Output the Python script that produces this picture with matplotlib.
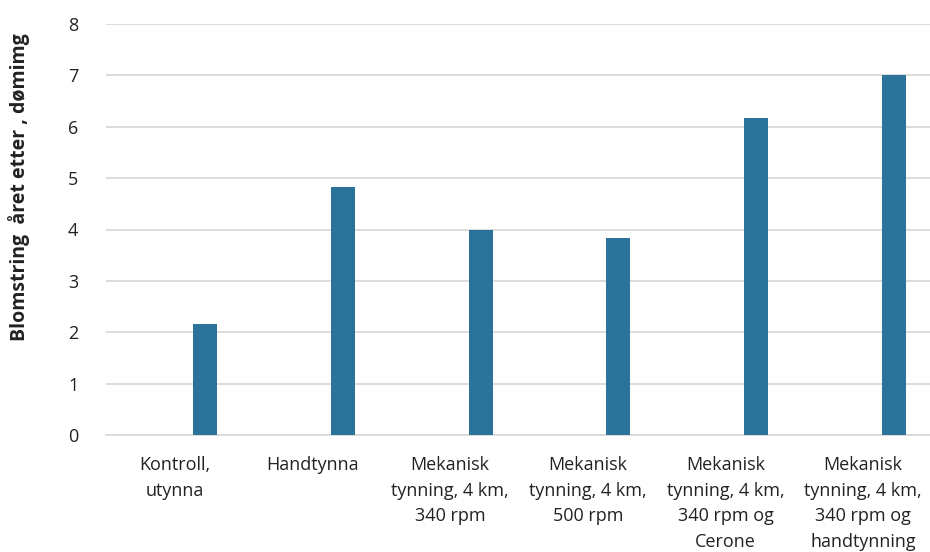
import matplotlib
matplotlib.use("Agg")
import matplotlib.pyplot as plt
import numpy as np

categories = [
    "Kontroll,\nutynna",
    "Handtynna",
    "Mekanisk\ntynning, 4 km,\n340 rpm",
    "Mekanisk\ntynning, 4 km,\n500 rpm",
    "Mekanisk\ntynning, 4 km,\n340 rpm og\nCerone",
    "Mekanisk\ntynning, 4 km,\n340 rpm og\nhandtynning",
]
values = [2.17, 4.83, 4.0, 3.83, 6.17, 7.0]
y_ticks = [0, 1, 2, 3, 4, 5, 6, 7, 8]
y_label = "Blomstring  året etter , dømimg"

plt.rcParams["font.family"] = ["Open Sans", "DejaVu Sans"]

fig = plt.figure(figsize=(9.3, 5.52), dpi=100)
ax = fig.add_axes([106 / 930, 117 / 552, 826 / 930, 411 / 552])

x = np.arange(len(categories))
ax.bar(x + 0.221, values, width=0.174, color="#2b7399", zorder=3)

ax.set_xlim(-0.5, len(categories) - 0.5)
ax.set_ylim(0, 8)
ax.set_yticks(y_ticks)
ax.set_yticklabels([str(t) for t in y_ticks], fontsize=13, color="#222222")
ax.set_xticks(x)
ax.set_xticklabels(categories, fontsize=13, color="#222222", linespacing=1.55, va="top")

ax.tick_params(axis="y", length=0, pad=20)
ax.tick_params(axis="x", length=0, pad=15)
ax.grid(axis="y", color="#d9d9d9", linewidth=1.3, zorder=0)
for s in ["top", "right", "left"]:
    ax.spines[s].set_visible(False)
ax.spines["bottom"].set_color("#d9d9d9")
ax.spines["bottom"].set_linewidth(1.3)

fig.text(19 / 930, 1 - 187 / 552, y_label, rotation=90, ha="center", va="center",
         fontsize=14, fontweight="bold", color="#222222")

fig.savefig("out.png", dpi=100)
